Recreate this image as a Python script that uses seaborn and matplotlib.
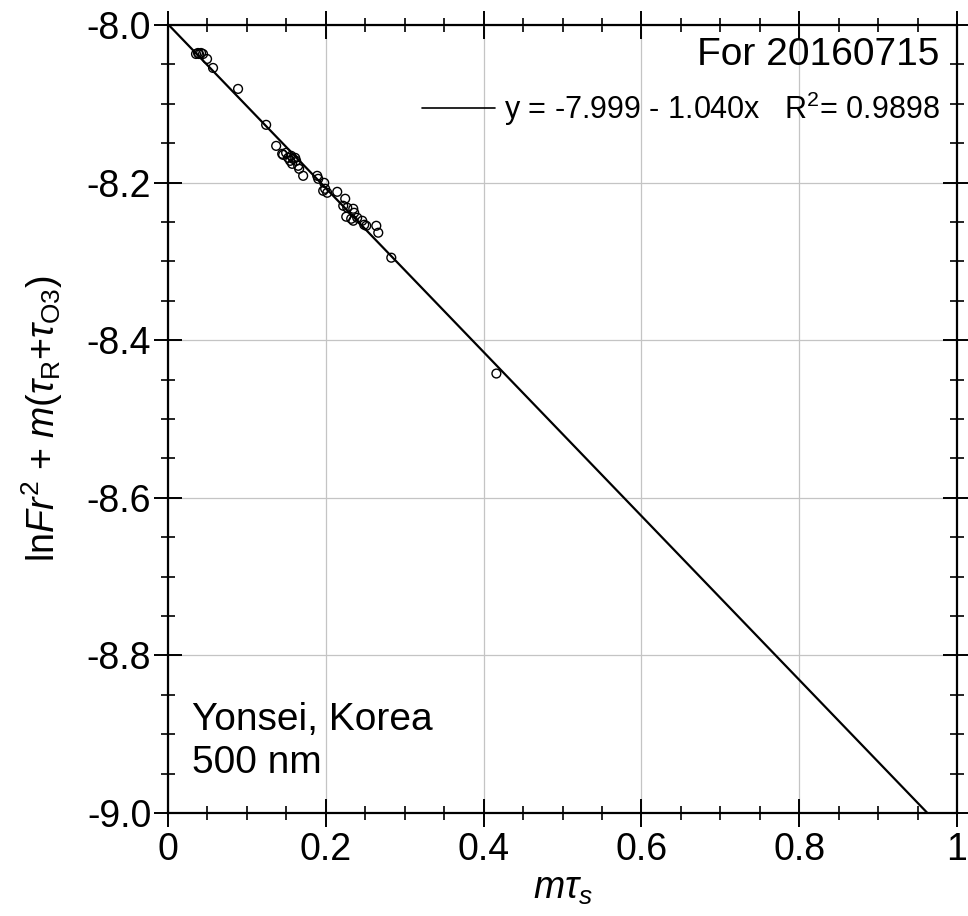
import matplotlib
matplotlib.use("Agg")
import matplotlib.pyplot as plt
from matplotlib.ticker import MultipleLocator
from matplotlib.lines import Line2D
import numpy as np
import pandas as pd
import seaborn as sns

# Langley-type calibration data, 500 nm, Yonsei (Korea), 2016-07-15
m_tau_s = [0.0355, 0.0380, 0.0393, 0.0419, 0.0444, 0.0495, 0.0571, 0.0888,
           0.1244, 0.1371, 0.1447, 0.1459, 0.1497, 0.1523, 0.1548, 0.1561,
           0.1586, 0.1612, 0.1624, 0.1574, 0.1650, 0.1662, 0.1713, 0.1891,
           0.1904, 0.1980, 0.1967, 0.2018, 0.1992, 0.2145, 0.2246, 0.2221,
           0.2272, 0.2348, 0.2360, 0.2259, 0.2322, 0.2348, 0.2398, 0.2462,
           0.2487, 0.2513, 0.2640, 0.2665, 0.2830, 0.4162]
ln_term = [-8.0368, -8.0355, -8.0368, -8.0355, -8.0368, -8.0431, -8.0545, -8.0811,
           -8.1267, -8.1534, -8.1635, -8.1648, -8.1622, -8.1686, -8.1724, -8.1660,
           -8.1698, -8.1686, -8.1724, -8.1762, -8.1787, -8.1825, -8.1914, -8.1914,
           -8.1952, -8.2003, -8.2104, -8.2129, -8.2079, -8.2117, -8.2205, -8.2294,
           -8.2319, -8.2332, -8.2383, -8.2433, -8.2459, -8.2484, -8.2446, -8.2484,
           -8.2535, -8.2548, -8.2548, -8.2636, -8.2953, -8.4423]

# Linear fit reported in the legend
intercept = -7.999
slope = -1.040
r_squared = 0.9898
date_label = "For 20160715"
site_label = "Yonsei, Korea\n500 nm"

x_ticks = [0, 0.2, 0.4, 0.6, 0.8, 1]
x_tick_labels = ["0", "0.2", "0.4", "0.6", "0.8", "1"]
y_ticks = [-9.0, -8.8, -8.6, -8.4, -8.2, -8.0]
y_tick_labels = ["-9.0", "-8.8", "-8.6", "-8.4", "-8.2", "-8.0"]

sns.set_theme(style="white")
plt.rcParams["font.family"] = ["Liberation Sans", "DejaVu Sans"]
plt.rcParams["mathtext.fontset"] = "custom"
plt.rcParams["mathtext.rm"] = "Liberation Sans"
plt.rcParams["mathtext.it"] = "Liberation Sans:italic"
plt.rcParams["mathtext.bf"] = "Liberation Sans:bold"
for key in ("text.color", "axes.labelcolor", "xtick.color", "ytick.color"):
    plt.rcParams[key] = "black"

fig = plt.figure(figsize=(9.68, 9.16), dpi=100)
ax = fig.add_axes([168 / 968, 103 / 916, 789 / 968, 788 / 916])

points = pd.DataFrame({"x": m_tau_s, "y": ln_term})
fit_x = np.array([0.0, 1.0])
fit = pd.DataFrame({"x": fit_x, "y": intercept + slope * fit_x})

ax.grid(True, color="#c4c4c4", linewidth=0.9)
ax.set_axisbelow(True)

sns.lineplot(data=fit, x="x", y="y", ax=ax, color="black", linewidth=1.6,
             zorder=3)
sns.scatterplot(data=points, x="x", y="y", ax=ax, marker="o", s=40,
                facecolor="none", edgecolor="black", linewidth=1.0, zorder=4)

ax.set_xlim(0, 1)
ax.set_ylim(-9.0, -8.0)
ax.set_xticks(x_ticks)
ax.set_xticklabels(x_tick_labels)
ax.set_yticks(y_ticks)
ax.set_yticklabels(y_tick_labels)
ax.xaxis.set_minor_locator(MultipleLocator(0.05))
ax.yaxis.set_minor_locator(MultipleLocator(0.05))

for side in ax.spines.values():
    side.set_visible(True)
    side.set_color("black")
    side.set_linewidth(1.6)

ax.tick_params(which="major", direction="inout", length=20, width=1.4,
               top=True, right=True, bottom=True, left=True,
               labelsize=27, colors="black")
ax.tick_params(axis="x", which="major", pad=4)
ax.tick_params(axis="y", which="major", pad=2)
ax.tick_params(which="minor", direction="inout", length=10, width=1.2,
               top=True, right=True, bottom=True, left=True)

ax.set_xlabel(r"$m\tau_s$", fontsize=27, labelpad=2)
ax.set_ylabel(r"ln$Fr^2$ + $m$($\tau_\mathrm{R}$+$\tau_\mathrm{O3}$)",
              fontsize=27, labelpad=16)

handle = Line2D([], [], color="black", linewidth=1.2)
fit_label = f"y = {intercept:.3f} - {abs(slope):.3f}x   R$^2$= {r_squared:.4f}"
ax.legend([handle], [fit_label], loc="upper right",
          bbox_to_anchor=(0.979, 0.918), frameon=False, fontsize=22,
          handlelength=2.4, handletextpad=0.3, borderaxespad=0,
          borderpad=0)

ax.text(0.978, 0.962, date_label, transform=ax.transAxes, ha="right",
        va="center", fontsize=28)
ax.text(0.03, 0.04, site_label, transform=ax.transAxes, ha="left",
        va="bottom", fontsize=28, linespacing=1.25)

fig.savefig("out.png", dpi=100, facecolor="white")
